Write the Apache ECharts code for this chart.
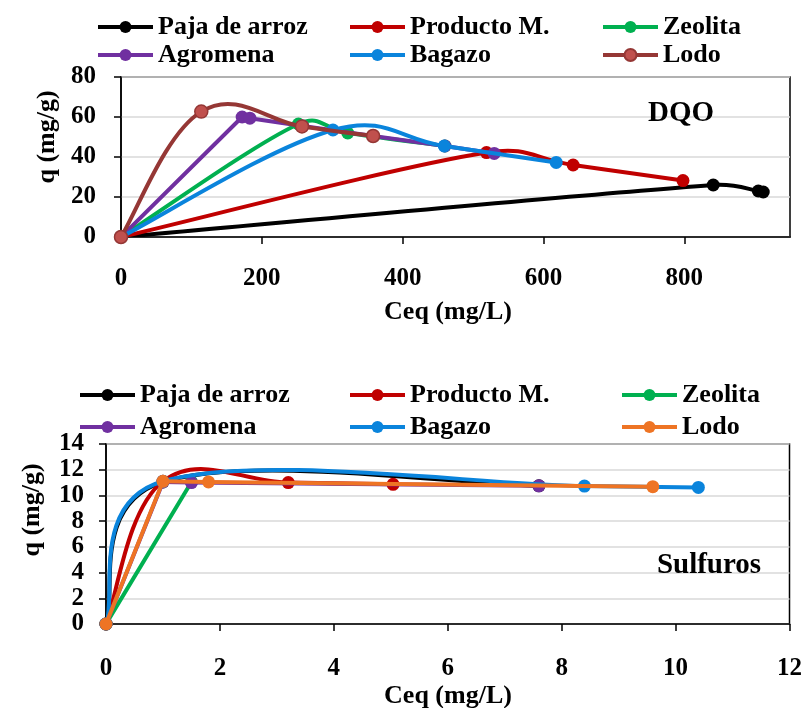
<!DOCTYPE html>
<html><head><meta charset="utf-8">
<script src="https://cdn.jsdelivr.net/npm/echarts@6/dist/echarts.min.js"></script>
<style>html,body{margin:0;padding:0;background:#fff}#c{width:805px;height:708px}</style>
</head><body><div id="c"></div>
<script>
// ---- Data ----
const seriesNames = ['Paja de arroz', 'Producto M.', 'Zeolita', 'Agromena', 'Bagazo', 'Lodo'];

// DQO (top) : [Ceq mg/L, q mg/g]
const dqoPaja      = [[0,0],[841,26],[905,23],[912,22.5]];
const dqoProducto  = [[0,0],[519,42.2],[642,36],[798,28.2]];
const dqoZeolita   = [[0,0],[252,56.5],[322,52],[460,45.5]];
const dqoAgromena  = [[0,0],[172,60],[183,59.4],[258,55.5],[358,50.5],[460,45.5],[530,41.8]];
const dqoBagazo    = [[0,0],[301,53.5],[459,45.5],[618,37.3]];
const dqoLodo      = [[0,0],[114,62.7],[257,55.3],[358,50.5]];

// Sulfuros (bottom)
const sulPaja      = [[0,0],[1.0,11.05],[7.6,10.75]];
const sulProducto  = [[0,0],[1.0,11.1],[3.2,11.0],[5.04,10.86]];
const sulZeolita   = [[0,0],[1.5,11.05]];
const sulAgromena  = [[0,0],[1.0,11.05],[1.5,11.0],[7.6,10.75]];
const sulBagazo    = [[0,0],[1.0,11.1],[8.4,10.73],[10.4,10.62]];
const sulLodo      = [[0,0],[1.0,11.1],[1.8,11.05],[9.6,10.68]];

const dqoData = [dqoPaja, dqoProducto, dqoZeolita, dqoAgromena, dqoBagazo, dqoLodo];
const sulData = [sulPaja, sulProducto, sulZeolita, sulAgromena, sulBagazo, sulLodo];

const xTicksTop = [0, 950, 200];   // min, max, interval
const yTicksTop = [0, 80, 20];
const xTicksBot = [0, 12, 2];
const yTicksBot = [0, 14, 2];

// ---- Styles ----
const FONT = 'Liberation Serif';
const colorsTop = ['#000000', '#c00000', '#00b050', '#7030a0', '#0a84dc', '#953735'];
const colorsBot = ['#000000', '#c00000', '#00b050', '#7030a0', '#0a84dc', '#ee7424'];
const markerFillTop = ['#000000', '#c00000', '#00b050', '#7030a0', '#0a84dc', '#c0504d'];
const smoothTop = [true, true, true, false, true, true];
const smoothBot = [true, true, false, false, true, false];

const chart = echarts.init(document.getElementById('c'), null, {renderer: 'canvas'});

function axisCommon(min, max, interval) {
  return {
    type: 'value', min: min, max: max, interval: interval,
    axisLine: {show: true, onZero: false, lineStyle: {color: '#000', width: 1.5}},
    axisTick: {show: true, inside: false, length: 7, lineStyle: {color: '#000', width: 1.5}},
    axisLabel: {color: '#000', fontFamily: FONT, fontWeight: 'bold', fontSize: 25},
  };
}

const xTop = Object.assign(axisCommon(...xTicksTop), {gridIndex: 0, splitLine: {show: false}});
xTop.axisLabel = Object.assign({}, xTop.axisLabel, {margin: 29, showMaxLabel: false});
const xBot = Object.assign(axisCommon(...xTicksBot), {gridIndex: 1, splitLine: {show: false}});
xBot.axisLabel = Object.assign({}, xBot.axisLabel, {margin: 32});
const yTop = Object.assign(axisCommon(...yTicksTop), {gridIndex: 0, splitLine: {show: true, lineStyle: {color: '#d9d9d9', width: 1.5}}});
yTop.axisLabel = Object.assign({}, yTop.axisLabel, {margin: 25});
const yBot = Object.assign(axisCommon(...yTicksBot), {gridIndex: 1, splitLine: {show: true, lineStyle: {color: '#d9d9d9', width: 1.5}}});
yBot.axisLabel = Object.assign({}, yBot.axisLabel, {margin: 22});

// Excel-like smoothed line drawn through the cartesian coordinate system (api.coord)
function smoothRenderer(pts, color, smooth) {
  return function (params, api) {
    if (params.dataIndex !== 0) return null;
    const P = pts.map(d => api.coord(d));
    const n = P.length, f = 0.2;
    const sub = (a, b) => [a[0] - b[0], a[1] - b[1]];
    const len = v => Math.hypot(v[0], v[1]);
    const children = [];
    for (let i = 0; i < n - 1; i++) {
      const p0 = P[Math.max(i - 1, 0)], p1 = P[i], p2 = P[i + 1], p3 = P[Math.min(i + 2, n - 1)];
      let c1 = p1, c2 = p2;
      if (smooth) {
        const seg = len(sub(p2, p1));
        const t1 = sub(p2, p0), l1 = len(t1);
        const t2 = sub(p3, p1), l2 = len(t2);
        const a1 = Math.min(l1 * f, seg / 2), a2 = Math.min(l2 * f, seg / 2);
        if (l1) c1 = [p1[0] + t1[0] / l1 * a1, p1[1] + t1[1] / l1 * a1];
        if (l2) c2 = [p2[0] - t2[0] / l2 * a2, p2[1] - t2[1] / l2 * a2];
      }
      children.push({
        type: 'bezierCurve',
        shape: {x1: p1[0], y1: p1[1], cpx1: c1[0], cpy1: c1[1], cpx2: c2[0], cpy2: c2[1], x2: p2[0], y2: p2[1]},
        style: {stroke: color, lineWidth: 4, fill: 'none', lineCap: 'round', lineJoin: 'round'}
      });
    }
    return {type: 'group', children: children};
  };
}

const series = [];
function addSeries(name, data, gi, lineColor, fill, border, smooth, i) {
  series.push({
    type: 'custom', coordinateSystem: 'cartesian2d', xAxisIndex: gi, yAxisIndex: gi,
    data: data, encode: {x: 0, y: 1}, silent: true, clip: true,
    renderItem: smoothRenderer(data, lineColor, smooth), z: 2 + 2 * i
  });
  series.push({
    name: name, type: 'line', xAxisIndex: gi, yAxisIndex: gi,
    data: data, symbol: 'circle', symbolSize: 13, showAllSymbol: true,
    lineStyle: {color: lineColor, width: 4, opacity: 0},
    itemStyle: {color: fill, borderColor: lineColor, borderWidth: border},
    z: 3 + 2 * i
  });
}
seriesNames.forEach((n, i) => addSeries(n, dqoData[i], 0, colorsTop[i], markerFillTop[i], i === 5 ? 1.5 : 0, smoothTop[i], i));
seriesNames.forEach((n, i) => addSeries(n + ' ', sulData[i], 1, colorsBot[i], colorsBot[i], 0, smoothBot[i], i));

const legends = [];
const colLeftTop = [96, 348, 601], rowTop = [27, 55];
const colLeftBot = [78, 348, 620], rowBot = [395, 427];
seriesNames.forEach((n, i) => {
  const c = i % 3, r = Math.floor(i / 3);
  const base = {
    orient: 'horizontal', padding: 0, itemWidth: 55, itemHeight: 15, itemGap: 0,
    lineStyle: {opacity: 1, width: 4},
    textStyle: {color: '#000', fontFamily: FONT, fontWeight: 'bold', fontSize: 26},
    formatter: s => s.trim(), selectedMode: false
  };
  legends.push(Object.assign({}, base, {left: colLeftTop[c], top: rowTop[r] - 13, data: [n]}));
  legends.push(Object.assign({}, base, {left: colLeftBot[c], top: rowBot[r] - 13, data: [n + ' ']}));
});

const txt = (x, y, s, size, rot) => ({
  type: 'text', x: x, y: y, rotation: rot || 0, z: 100,
  style: {text: s, fill: '#000', font: 'bold ' + size + 'px "' + FONT + '"', textAlign: 'center', textVerticalAlign: 'middle'}
});

chart.setOption({
  animation: false,
  backgroundColor: '#fff',
  grid: [
    {left: 121, top: 77, width: 669, height: 160, show: true, borderColor: '#000', borderWidth: 1.5, containLabel: false},
    {left: 106, top: 444, width: 684, height: 180, show: true, borderColor: '#000', borderWidth: 1.5, containLabel: false}
  ],
  xAxis: [xTop, xBot],
  yAxis: [yTop, yBot],
  legend: legends,
  series: series,
  graphic: [
    txt(448, 312, 'Ceq (mg/L)', 26),
    txt(448, 696, 'Ceq (mg/L)', 26),
    txt(47, 137, 'q (mg/g)', 26, Math.PI / 2),
    txt(32, 510, 'q (mg/g)', 26, Math.PI / 2),
    txt(681, 114, 'DQO', 29),
    txt(709, 566, 'Sulfuros', 29)
  ]
});
</script></body></html>
